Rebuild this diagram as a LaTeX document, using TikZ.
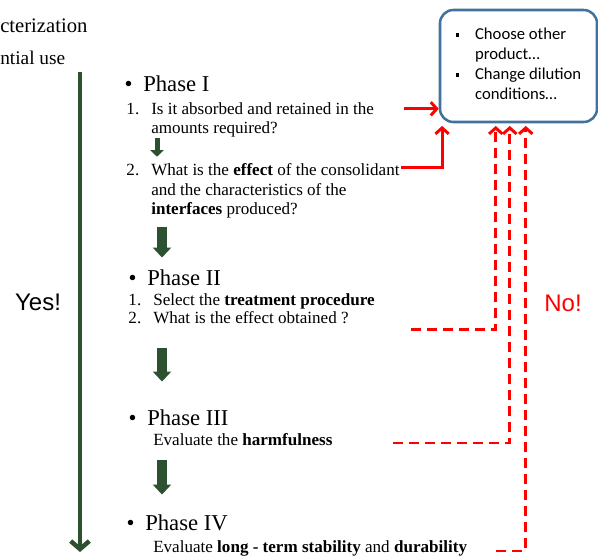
\documentclass[tikz,border=0pt]{standalone}
\usepackage{fontspec}
\setmainfont{Liberation Serif}
\newfontfamily\boxfont{Carlito}
\newfontfamily\signfont{Liberation Sans}
\usepackage{tikz}
\usetikzlibrary{arrows.meta, positioning, calc}
\definecolor{mygreen}{RGB}{44,80,48}
\definecolor{myred}{RGB}{255,0,0}
\definecolor{myblue}{RGB}{65,113,156}
\newcommand{\sqbullet}{\rule[2.5pt]{2.5pt}{2.5pt}}
\tikzset{
  phasehead/.style={inner sep=0pt, anchor=base west,
    font=\fontsize{17}{20}\selectfont},
  itemtext/.style={inner sep=0pt, align=left,
    font=\fontsize{12.8}{14.6}\selectfont},
  choicebox/.style={rectangle, draw=myblue, fill=white, line width=1.9pt,
    rounded corners=10pt, minimum width=117.75pt, minimum height=84pt,
    font=\boxfont\fontsize{12.5}{15}\selectfont},
  yesarrow/.style={-{Straight Barb[length=6pt,width=14pt]}, line width=3.4pt, color=mygreen},
  blockarrow/.style={-{Triangle[length=7.5pt,width=13.5pt]}, line width=7.5pt, color=mygreen},
  smallarrow/.style={-{Triangle[length=5pt,width=10pt]}, line width=3.75pt, color=mygreen},
  redarrow/.style={-{Straight Barb[length=4.5pt,width=10pt]}, line width=2.2pt, color=myred, shorten >=2pt},
  reddash/.style={redarrow, dash pattern=on 7.5pt off 4.5pt}
}

\begin{document}
\begin{tikzpicture}[x=0.75pt, y=-0.75pt,
  sign/.style={font=\signfont\fontsize{18}{20}\selectfont}]
  \useasboundingbox (0,0) rectangle (598,556);

  \node[inner sep=0pt, anchor=base west, font=\fontsize{15.5}{18}\selectfont] (ttl1) at (0,33) {cterization};
  \node[inner sep=0pt, anchor=base west, font=\fontsize{14.5}{17}\selectfont] (ttl2) at (0,65) {ntial use};

  % Yes path
  \coordinate (ytop) at (80,72);
  \coordinate (ybot) at (80,552);
  \draw[yesarrow] (ytop) -- (ybot);
  \node[sign] (yes) at (38,302) {Yes!};

  \node[phasehead] (ph1) at (143,92) {\llap{\textbullet\hspace{8pt}}Phase I};
  \node[itemtext, anchor=north west] (p1a) at (151,102.4)
    {\llap{1.\hspace{9pt}}Is it absorbed and retained in the\\amounts required?};
  \node[itemtext, anchor=north west] (p1b) at (151,163.4)
    {\llap{2.\hspace{9pt}}What is the \textbf{effect} of the consolidant\\and the characteristics of the\\\textbf{interfaces} produced?};

  \node[phasehead] (ph2) at (147,285) {\llap{\textbullet\hspace{8pt}}Phase II};
  \node[itemtext, anchor=base west] (p2a) at (153,305) {\llap{1.\hspace{9pt}}Select the \textbf{treatment procedure}};
  \node[itemtext, anchor=base west] (p2b) at (153,323) {\llap{2.\hspace{9pt}}What is the effect obtained ?};

  \node[phasehead] (ph3) at (147,425) {\llap{\textbullet\hspace{8pt}}Phase III};
  \node[itemtext, anchor=base west] (p3a) at (153,445) {Evaluate the \textbf{harmfulness}};

  \node[phasehead] (ph4) at (145,530) {\llap{\textbullet\hspace{8pt}}Phase IV};
  \node[itemtext, anchor=base west] (p4a) at (153,552) {Evaluate \textbf{long - term stability} and \textbf{durability}};

  \draw[smallarrow, shorten >=5pt] ([xshift=4.5pt]p1a.south west) -- ([xshift=4.5pt]p1b.north west);
  \draw[blockarrow, shorten <=6.3pt, shorten >=8.6pt] ([xshift=8.25pt]p1b.south west) -- ([xshift=11.25pt]ph2.north west);
  \draw[blockarrow, shorten <=18pt, shorten >=20.6pt] ([xshift=6.75pt]p2b.south west) -- ([xshift=11.25pt]ph3.north west);
  \draw[blockarrow, shorten <=11.25pt, shorten >=14.6pt] ([xshift=6.75pt]p3a.south west) -- ([xshift=12.75pt]ph4.north west);

  \node[choicebox] (choice) at (518.5,66)
    {\begin{tabular}{@{}l@{\hspace{12pt}}l@{}}
      \sqbullet & Choose other\\
                & product…\\
      \sqbullet & Change dilution\\
                & conditions…
    \end{tabular}};

  % No paths
  \coordinate (r1) at ([xshift=22pt,yshift=-4.8pt]p1a.north east);
  \coordinate (r2) at ([xshift=1pt,yshift=-3pt]p1b.north east);
  \coordinate (dA) at ([xshift=46.5pt,yshift=-5pt]p2b.base east);
  \coordinate (dB) at ([xshift=45pt,yshift=1.5pt]p3a.base east);
  \coordinate (dC) at ([xshift=21.75pt,yshift=0.75pt]p4a.base east);
  \draw[redarrow, shorten >=0pt] (r1) -- (r1 -| choice.west);
  \draw[redarrow] (r2) -| ([xshift=2.5pt]choice.south west);
  \draw[reddash] (dA) -| ([xshift=42.75pt]choice.south west);
  \draw[reddash] (dB) -| ([xshift=53.25pt]choice.south west);
  \draw[reddash] (dC) -| ([xshift=65.25pt]choice.south west);
  \node[sign, color=myred] (no) at (563,303) {No!};
\end{tikzpicture}
\end{document}
